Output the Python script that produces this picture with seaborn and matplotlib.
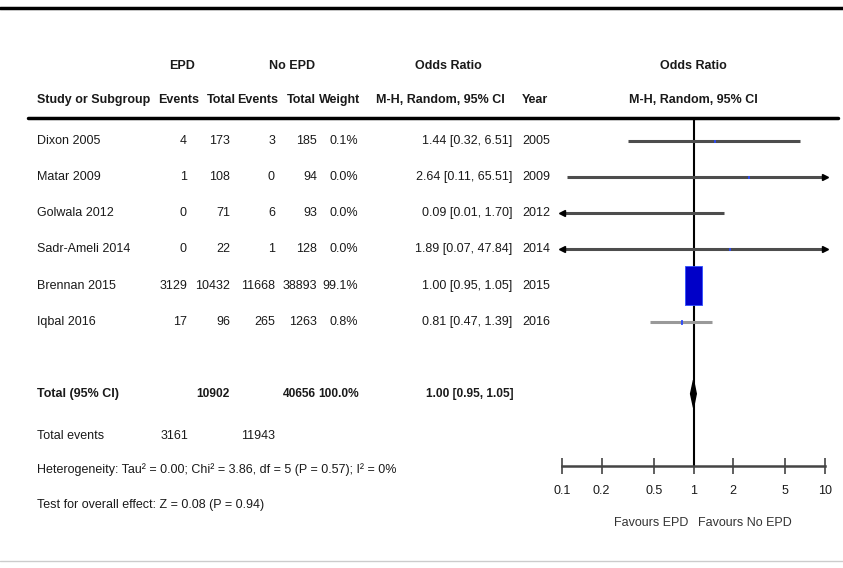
import numpy as np
import pandas as pd
import matplotlib
matplotlib.use("Agg")
import matplotlib.pyplot as plt
import seaborn as sns

# study data
studies = ["Dixon 2005", "Matar 2009", "Golwala 2012", "Sadr-Ameli 2014", "Brennan 2015", "Iqbal 2016"]
epd_events = [4, 1, 0, 0, 3129, 17]
epd_total = [173, 108, 71, 22, 10432, 96]
no_events = [3, 0, 6, 1, 11668, 265]
no_total = [185, 94, 93, 128, 38893, 1263]
weights = [0.1, 0.0, 0.0, 0.0, 99.1, 0.8]
or_est = [1.44, 2.64, 0.09, 1.89, 1.00, 0.81]
or_lo = [0.32, 0.11, 0.01, 0.07, 0.95, 0.47]
or_hi = [6.51, 65.51, 1.70, 47.84, 1.05, 1.39]
years = [2005, 2009, 2012, 2014, 2015, 2016]

total_epd = 10902
total_no = 40656
total_events_epd = 3161
total_events_no = 11943
pooled = (1.00, 0.95, 1.05)

ticks = [0.1, 0.2, 0.5, 1, 2, 5, 10]
tick_labels = ["0.1", "0.2", "0.5", "1", "2", "5", "10"]

df = pd.DataFrame({"study": studies, "OR": or_est, "lo": or_lo, "hi": or_hi,
                   "weight": weights, "row": np.arange(len(studies))})

sns.set_theme(style="white")
plt.rcParams['font.family'] = ['Liberation Sans', 'DejaVu Sans']

W, H = 843, 568
fig = plt.figure(figsize=(W / 100, H / 100), dpi=100)

# background axes in pixel coordinates for the table
bg = fig.add_axes([0, 0, 1, 1])
bg.set_xlim(0, W)
bg.set_ylim(H, 0)
bg.axis("off")

# forest plot axes
x0, x1, y_top, y_axis = 562, 825, 118, 466
ymin, ymax = -0.64, 9.0
ax = fig.add_axes([x0 / W, 1 - y_axis / H, (x1 - x0) / W, (y_axis - y_top) / H])
ax.set_xscale("log")
ax.set_xlim(0.1, 10)
ax.set_ylim(ymax, ymin)
ax.patch.set_alpha(0)

def row_px(r):
    return y_top + (r - ymin) * (y_axis - y_top) / (ymax - ymin)

tc = "#1a1a1a"
fs = 9

# rules
bg.plot([0, W], [8, 8], color="black", lw=2.5)
bg.plot([28, 838], [y_top, y_top], color="black", lw=2.5)
bg.plot([0, W], [561, 561], color="#cccccc", lw=1)

# headers
bg.text(182, 66, "EPD", ha="center", va="center", fontsize=fs, fontweight="bold", color=tc)
bg.text(292, 66, "No EPD", ha="center", va="center", fontsize=fs, fontweight="bold", color=tc)
bg.text(448, 66, "Odds Ratio", ha="center", va="center", fontsize=fs, fontweight="bold", color=tc)
bg.text(693, 66, "Odds Ratio", ha="center", va="center", fontsize=fs, fontweight="bold", color=tc)
hy = 100
bg.text(37, hy, "Study or Subgroup", ha="left", va="center", fontsize=fs, fontweight="bold", color=tc)
bg.text(179, hy, "Events", ha="center", va="center", fontsize=fs, fontweight="bold", color=tc)
bg.text(221, hy, "Total", ha="center", va="center", fontsize=fs, fontweight="bold", color=tc)
bg.text(258, hy, "Events", ha="center", va="center", fontsize=fs, fontweight="bold", color=tc)
bg.text(301, hy, "Total", ha="center", va="center", fontsize=fs, fontweight="bold", color=tc)
bg.text(340, hy, "Weight", ha="center", va="center", fontsize=fs, fontweight="bold", color=tc)
bg.text(440, hy, "M-H, Random, 95% CI", ha="center", va="center", fontsize=fs, fontweight="bold", color=tc)
bg.text(522, hy, "Year", ha="left", va="center", fontsize=fs, fontweight="bold", color=tc)
bg.text(693, hy, "M-H, Random, 95% CI", ha="center", va="center", fontsize=fs, fontweight="bold", color=tc)

# study rows
for i in range(len(studies)):
    y = row_px(i)
    bg.text(37, y, studies[i], ha="left", va="center", fontsize=fs, color=tc)
    bg.text(187, y, str(epd_events[i]), ha="right", va="center", fontsize=fs, color=tc)
    bg.text(230, y, str(epd_total[i]), ha="right", va="center", fontsize=fs, color=tc)
    bg.text(275, y, str(no_events[i]), ha="right", va="center", fontsize=fs, color=tc)
    bg.text(317, y, str(no_total[i]), ha="right", va="center", fontsize=fs, color=tc)
    bg.text(358, y, f"{weights[i]:.1f}%", ha="right", va="center", fontsize=fs, color=tc)
    bg.text(512, y, f"{or_est[i]:.2f} [{or_lo[i]:.2f}, {or_hi[i]:.2f}]", ha="right", va="center",
            fontsize=fs, color=tc)
    bg.text(522, y, str(years[i]), ha="left", va="center", fontsize=fs, color=tc)

# total row
yt = row_px(7)
fst = 8.6
bg.text(37, yt, "Total (95% CI)", ha="left", va="center", fontsize=fs, fontweight="bold", color=tc)
bg.text(230, yt, str(total_epd), ha="right", va="center", fontsize=fst, fontweight="bold", color=tc)
bg.text(316, yt, str(total_no), ha="right", va="center", fontsize=fst, fontweight="bold", color=tc)
bg.text(359, yt, "100.0%", ha="right", va="center", fontsize=fst, fontweight="bold", color=tc)
bg.text(514, yt, f"{pooled[0]:.2f} [{pooled[1]:.2f}, {pooled[2]:.2f}]", ha="right", va="center",
        fontsize=fst, fontweight="bold", color=tc)

bg.text(37, 436, "Total events", ha="left", va="center", fontsize=fs, color=tc)
bg.text(188, 436, str(total_events_epd), ha="right", va="center", fontsize=fs, color=tc)
bg.text(275, 436, str(total_events_no), ha="right", va="center", fontsize=fs, color=tc)
bg.text(37, 470, "Heterogeneity: Tau² = 0.00; Chi² = 3.86, df = 5 (P = 0.57); I² = 0%",
        ha="left", va="center", fontsize=fs, color=tc)
bg.text(37, 505, "Test for overall effect: Z = 0.08 (P = 0.94)",
        ha="left", va="center", fontsize=fs, color=tc)

# forest plot
ax.axvline(1, color="black", lw=1.5, zorder=1)
line_colors = ["#4d4d4d"] * 5 + ["#999999"]
lo_c = np.clip(df["lo"], 0.1, 10)
hi_c = np.clip(df["hi"], 0.1, 10)
ax.hlines(df["row"], lo_c, hi_c, colors=line_colors, lw=2.2, zorder=2)
left_arrow = df[df["lo"] < 0.1]
right_arrow = df[df["hi"] > 10]
ax.plot(np.full(len(left_arrow), 0.1), left_arrow["row"], ls="none", marker="<",
        ms=5, color="black", clip_on=False, zorder=3)
ax.plot(np.full(len(right_arrow), 10), right_arrow["row"], ls="none", marker=">",
        ms=5, color="black", clip_on=False, zorder=3)

box = [(-0.47, -1), (0.47, -1), (0.47, 1), (-0.47, 1), (-0.47, -1)]
sns.scatterplot(data=df, x="OR", y="row", size="weight", sizes=(2, 760), size_norm=(0, 99.1),
                marker=box, color="#0000c8", edgecolor="#3050ff", linewidth=0.6,
                legend=False, ax=ax, zorder=4)

ax.fill([pooled[1], pooled[0], pooled[2], pooled[0]], [7, 6.62, 7, 7.38],
        color="black", zorder=4)

for s in ["left", "right", "top"]:
    ax.spines[s].set_visible(False)
ax.spines["bottom"].set_color("#444444")
ax.spines["bottom"].set_linewidth(1.8)
ax.set_yticks([])
ax.set_xticks(ticks)
ax.set_xticklabels(tick_labels)
ax.minorticks_off()
ax.tick_params(axis="x", direction="inout", length=11, width=1.2, color="#444444",
               labelsize=fs, labelcolor=tc, pad=8, bottom=True)
ax.set_xlabel("")
ax.set_ylabel("")
ax.grid(False)

bg.text(688, 523, "Favours EPD", ha="right", va="center", fontsize=fs, color="#333333")
bg.text(698, 523, "Favours No EPD", ha="left", va="center", fontsize=fs, color="#333333")

fig.savefig("out.png", dpi=100)
